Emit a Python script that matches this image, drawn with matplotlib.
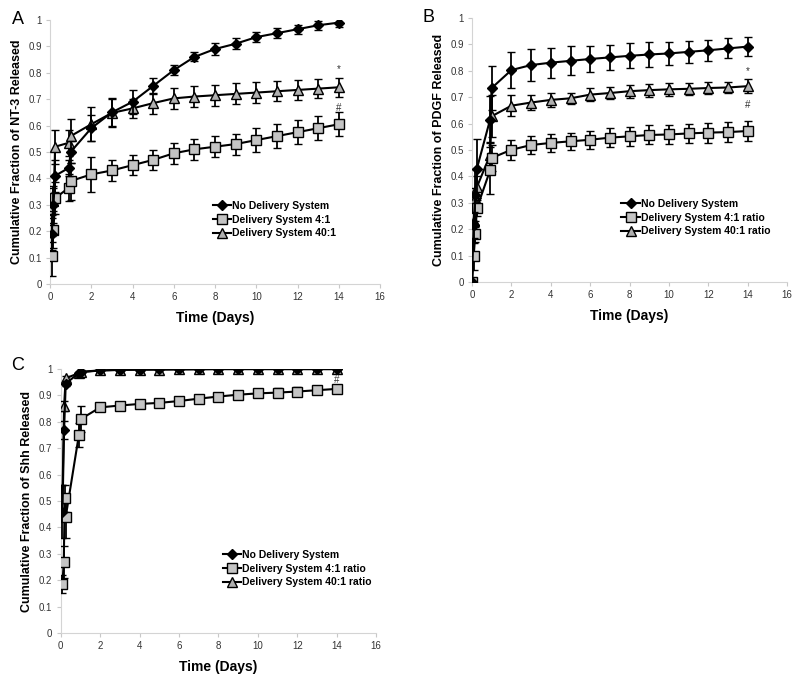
import numpy as np
import matplotlib
matplotlib.use("Agg")
import matplotlib.pyplot as plt

plt.rcParams['font.family'] = ['Liberation Sans', 'DejaVu Sans']

late_days = list(range(2, 15))

# panel A - NT-3
days_a = [0.083, 0.167, 0.25, 0.917, 1] + late_days
none_a = [0.19, 0.30, 0.41, 0.44, 0.50, 0.59, 0.65, 0.69, 0.75, 0.81, 0.86, 0.89, 0.91, 0.935, 0.95, 0.965, 0.98, 0.99]
none_a_err = [0.06, 0.07, 0.06, 0.03, 0.04, 0.05, 0.05, 0.045, 0.03, 0.02, 0.017, 0.022, 0.02, 0.02, 0.02, 0.017, 0.017, 0.017]
ds4_a = [0.105, 0.205, 0.325, 0.365, 0.39, 0.415, 0.43, 0.45, 0.47, 0.495, 0.51, 0.52, 0.53, 0.545, 0.56, 0.575, 0.59, 0.605]
ds4_a_err = [0.075, 0.07, 0.06, 0.05, 0.07, 0.065, 0.04, 0.037, 0.038, 0.04, 0.04, 0.04, 0.04, 0.045, 0.045, 0.045, 0.045, 0.045]
ds40_a = [0.21, 0.315, 0.52, 0.535, 0.56, 0.605, 0.648, 0.665, 0.685, 0.703, 0.71, 0.715, 0.72, 0.725, 0.73, 0.735, 0.74, 0.745]
ds40_a_err = [0.05, 0.05, 0.065, 0.05, 0.065, 0.065, 0.055, 0.035, 0.04, 0.04, 0.04, 0.04, 0.04, 0.04, 0.037, 0.037, 0.037, 0.035]

# panel B - PDGF
days_b = [0, 0.083, 0.167, 0.25, 0.917, 1] + late_days
none_b = [0, 0.217, 0.33, 0.43, 0.615, 0.735, 0.803, 0.822, 0.831, 0.838, 0.845, 0.851, 0.857, 0.862, 0.866, 0.872, 0.878, 0.885, 0.892]
none_b_err = [0, 0.05, 0.1, 0.11, 0.09, 0.085, 0.067, 0.06, 0.057, 0.055, 0.05, 0.048, 0.047, 0.046, 0.045, 0.043, 0.04, 0.038, 0.037]
ds4_b = [0, 0.097, 0.18, 0.28, 0.423, 0.47, 0.501, 0.519, 0.527, 0.533, 0.539, 0.547, 0.552, 0.557, 0.559, 0.563, 0.566, 0.568, 0.572]
ds4_b_err = [0, 0.05, 0.03, 0.03, 0.09, 0.05, 0.038, 0.033, 0.033, 0.033, 0.035, 0.035, 0.036, 0.036, 0.037, 0.037, 0.038, 0.038, 0.039]
ds40_b = [0, 0.232, 0.317, 0.36, 0.481, 0.628, 0.668, 0.68, 0.69, 0.696, 0.71, 0.716, 0.723, 0.727, 0.73, 0.732, 0.735, 0.737, 0.742]
ds40_b_err = [0, 0.05, 0.04, 0.04, 0.05, 0.08, 0.04, 0.03, 0.026, 0.022, 0.024, 0.024, 0.025, 0.025, 0.025, 0.023, 0.022, 0.022, 0.027]

# panel C - Shh
days_c = [0.083, 0.167, 0.25, 0.917, 1] + late_days
none_c = [0.46, 0.77, 0.945, 0.985, 0.99, 0.995, 0.997, 0.998, 0.999, 0.999, 1.0, 1.0, 1.0, 1.0, 1.0, 1.0, 1.0, 1.0]
none_c_err = [0.1, 0.035, 0.01, 0.005, 0.005, 0.003, 0.002, 0.002, 0.002, 0.002, 0.002, 0.002, 0.002, 0.002, 0.002, 0.002, 0.002, 0.002]
ds40_c = [0.51, 0.86, 0.965, 0.985, 0.988, 0.995, 0.997, 0.998, 0.998, 0.999, 0.999, 1.0, 1.0, 1.0, 1.0, 1.0, 1.0, 1.0]
ds40_c_err = [0.05, 0.02, 0.01, 0.005, 0.005, 0.003, 0.002, 0.002, 0.002, 0.002, 0.002, 0.002, 0.002, 0.002, 0.002, 0.002, 0.002, 0.002]
days_c_sq = [0.083, 0.15, 0.2, 0.25, 0.917, 1] + late_days
ds4_c = [0.185, 0.27, 0.51, 0.44, 0.75, 0.81, 0.855, 0.862, 0.868, 0.872, 0.879, 0.888, 0.896, 0.903, 0.908, 0.911, 0.915, 0.92, 0.925]
ds4_c_err = [0.035, 0.06, 0.05, 0.08, 0.045, 0.05, 0.006, 0.006, 0.006, 0.006, 0.007, 0.008, 0.01, 0.012, 0.015, 0.016, 0.017, 0.015, 0.013]

x_ticks = [0, 2, 4, 6, 8, 10, 12, 14, 16]
y_ticks = [0, 0.1, 0.2, 0.3, 0.4, 0.5, 0.6, 0.7, 0.8, 0.9, 1]
y_tick_labels = ['0', '0.1', '0.2', '0.3', '0.4', '0.5', '0.6', '0.7', '0.8', '0.9', '1']

# marker style per series: no system, 4:1, 40:1
styles = [
    dict(marker='D', markersize=5, markerfacecolor='black'),
    dict(marker='s', markersize=7, markerfacecolor='#c4c4c4'),
    dict(marker='^', markersize=7, markerfacecolor='#b0b0b0'),
]


def draw_panel(ax, series, ylabel, labels, legend_xy, marks):
    handles = [None, None, None]
    # triangles first, diamonds on top
    for idx in [2, 1, 0]:
        x, y, e = series[idx]
        h = ax.errorbar(x, y, yerr=e, color='black', lw=1.5, capsize=3,
                        capthick=1.3, elinewidth=1.3, markeredgecolor='black',
                        markeredgewidth=1.0, zorder=3 + (2 - idx), **styles[idx])
        handles[idx] = h[0]
    ax.set_xlim(0, 16)
    ax.set_ylim(0, 1)
    ax.set_xticks(x_ticks)
    ax.set_yticks(y_ticks)
    ax.set_yticklabels(y_tick_labels)
    ax.tick_params(labelsize=7, colors='#c8c8c8', labelcolor='#333333', length=3, width=0.8, pad=3)
    for s in ['top', 'right']:
        ax.spines[s].set_visible(False)
    for s in ['left', 'bottom']:
        ax.spines[s].set_color('#d4d4d4')
        ax.spines[s].set_linewidth(0.8)
    ax.set_xlabel('Time (Days)', fontsize=10, fontweight='bold', labelpad=6)
    ax.set_ylabel(ylabel, fontsize=9, fontweight='bold', labelpad=4)
    ax.legend(handles, labels, loc='upper left', bbox_to_anchor=legend_xy,
              frameon=False, prop={'weight': 'bold', 'size': 7.5}, handlelength=1.8,
              handletextpad=0.1, labelspacing=0.35, borderaxespad=0)
    for txt, yv in marks:
        ax.text(14, yv, txt, ha='center', va='center', fontsize=7, color='#333333')


fig = plt.figure(figsize=(8, 6.82), dpi=100)

ax_a = fig.add_axes([0.0625, 0.5836, 0.4125, 0.3871])
draw_panel(ax_a,
           [(days_a, none_a, none_a_err), (days_a, ds4_a, ds4_a_err), (days_a, ds40_a, ds40_a_err)],
           'Cumulative Fraction of NT-3 Released',
           ['No Delivery System', 'Delivery System 4:1', 'Delivery System 40:1'],
           (0.48, 0.33), [('*', 0.815), ('#', 0.665)])

ax_b = fig.add_axes([0.59, 0.5865, 0.394, 0.387])
draw_panel(ax_b,
           [(days_b, none_b, none_b_err), (days_b, ds4_b, ds4_b_err), (days_b, ds40_b, ds40_b_err)],
           'Cumulative Fraction of PDGF Released',
           ['No Delivery System', 'Delivery System 4:1 ratio', 'Delivery System 40:1 ratio'],
           (0.46, 0.33), [('*', 0.80), ('#', 0.67)])

ax_c = fig.add_axes([0.076, 0.0718, 0.394, 0.387])
draw_panel(ax_c,
           [(days_c, none_c, none_c_err), (days_c_sq, ds4_c, ds4_c_err), (days_c, ds40_c, ds40_c_err)],
           'Cumulative Fraction of Shh Released',
           ['No Delivery System', 'Delivery System 4:1 ratio', 'Delivery System 40:1 ratio'],
           (0.5, 0.33), [('#', 0.96)])

fig.text(18 / 800, 1 - 19 / 682, 'A', fontsize=13, ha='center', va='center')
fig.text(428 / 800, 1 - 18 / 682, 'B', fontsize=13, ha='center', va='center')
fig.text(18 / 800, 1 - 365 / 682, 'C', fontsize=13, ha='center', va='center')

fig.savefig('out.png', dpi=100)
